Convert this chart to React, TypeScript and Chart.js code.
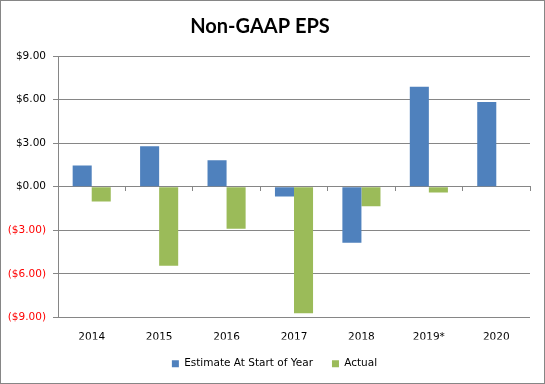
import React, { useEffect, useRef } from 'react';
import { Chart, registerables } from 'chart.js';

Chart.register(...registerables);

const categories = ['2014', '2015', '2016', '2017', '2018', '2019*', '2020'];
const estimateValues = [1.47, 2.79, 1.82, -0.67, -3.86, 6.88, 5.84];
const actualValues: (number | null)[] = [-1.02, -5.43, -2.89, -8.7, -1.34, -0.39, null];
const yMin = -9;
const yMax = 9;
const yStep = 3;

const fmt = (v: number) => (v < 0 ? `($${Math.abs(v).toFixed(2)})` : `$${v.toFixed(2)}`);

const titleShift = {
  id: 'titleShift',
  afterLayout(chart: any) {
    const t = chart.titleBlock;
    if (t) {
      t.left = 0;
      t.right = 518;
    }
  },
};

export default function App() {
  const ref = useRef<HTMLCanvasElement | null>(null);
  useEffect(() => {
    if (!ref.current) return;
    const font = { family: 'DejaVu Sans', size: 10.5 };
    const grey = '#868686';
    const chart = new Chart(ref.current, {
      type: 'bar',
      data: {
        labels: categories,
        datasets: [
          {
            label: 'Estimate At Start of Year',
            data: estimateValues,
            backgroundColor: '#4F81BD',
            barPercentage: 1,
            categoryPercentage: 0.565,
          },
          {
            label: 'Actual',
            data: actualValues,
            backgroundColor: '#9BBB59',
            barPercentage: 1,
            categoryPercentage: 0.565,
          },
        ],
      },
      plugins: [titleShift],
      options: {
        animation: false,
        responsive: false,
        layout: { padding: { left: 4, right: 0, top: 0, bottom: 4 } },
        plugins: {
          title: {
            display: true,
            text: 'Non-GAAP EPS',
            color: '#000',
            font: { family: 'Lato', size: 20, weight: 'bold' },
            padding: { top: 14, bottom: 17 },
          },
          legend: {
            position: 'bottom',
            labels: { boxWidth: 7, boxHeight: 7, padding: 19, color: '#000', font },
          },
          tooltip: { enabled: false },
        },
        scales: {
          x: {
            grid: { display: false, drawTicks: false },
            border: { display: false },
            ticks: { color: '#000', font, padding: 13 },
            afterFit: (s: any) => {
              s.height = 22;
            },
          },
          x2: {
            type: 'category',
            position: { y: 0 },
            offset: true,
            grid: { offset: true, drawOnChartArea: false, tickLength: 4, color: grey },
            border: { color: grey },
            ticks: { display: false },
          },
          y: {
            min: yMin,
            max: yMax,
            afterFit: (s: any) => {
              s.width = 53;
            },
            ticks: {
              stepSize: yStep,
              padding: 7,
              font,
              color: (ctx: any) => (ctx.tick && ctx.tick.value < 0 ? '#ff0000' : '#000'),
              callback: (v: any) => fmt(Number(v)),
            },
            grid: { color: grey, tickLength: 5 },
            border: { color: grey },
          },
          yRight: {
            type: 'linear',
            position: 'right',
            grid: { display: false, drawTicks: false },
            border: { display: false },
            ticks: { display: false },
            afterFit: (s: any) => {
              s.width = 14;
            },
          },
        },
      } as any,
    });
    return () => chart.destroy();
  }, []);
  return (
    <div
      style={{
        position: 'absolute',
        left: 0,
        top: 0,
        width: 545,
        height: 384,
        border: '1px solid #868686',
        boxSizing: 'border-box',
        background: '#fff',
      }}
    >
      <canvas ref={ref} width={543} height={382} style={{ display: 'block' }} />
    </div>
  );
}
